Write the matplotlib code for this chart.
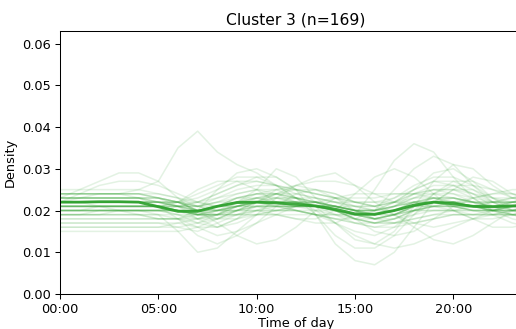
import numpy as np
import matplotlib
matplotlib.use("Agg")
import matplotlib.pyplot as plt

hours = np.arange(0, 25)

# density profiles (values in units of 1e-3)
profiles = [
    [22,22,22,22,22,21,20,19,20,22,23,23,22,22,21,20,19,19,20,21,22,22,21,21,21],
    [24,24,24,24,24,23,22,20,21,23,24,24,23,22,21,20,19,20,22,23,23,22,22,22,23],
    [19,19,19,19,19,19,18,17,18,20,21,21,21,21,20,19,18,19,21,22,22,21,20,20,20],
    [21,21,21,21,21,21,21,22,24,26,27,26,24,23,22,20,18,18,19,20,20,19,19,20,21],
    [23,23,23,23,23,22,21,18,16,18,20,22,23,23,22,21,20,22,25,27,26,24,22,22,22],
    [17,17,17,17,17,17,16,15,17,19,21,22,22,21,20,19,19,21,24,26,26,24,21,19,18],
    [25,25,25,25,25,24,23,21,20,21,22,22,21,20,19,18,17,17,18,19,20,21,22,23,24],
    [20,20,20,20,20,20,19,17,16,18,22,25,26,25,23,20,18,17,17,18,19,19,20,20,20],
    [22,22,22,22,22,22,22,22,23,24,25,24,22,21,20,18,15,14,15,18,21,23,24,24,23],
    [18,18,18,18,18,18,18,16,14,15,17,19,21,22,22,22,22,23,25,27,27,25,22,20,19],
    [23,23,24,24,23,21,18,14,12,14,17,21,24,25,24,22,21,22,24,25,25,24,23,23,23],
    [21,21,21,21,21,21,21,21,22,23,23,22,22,22,21,20,20,22,25,29,30,27,23,21,21],
    [16,16,16,16,16,16,16,17,19,22,24,25,25,24,23,21,20,20,21,22,22,21,20,19,18],
    [24,24,24,24,24,24,23,22,21,21,21,21,21,21,21,20,19,19,20,21,21,21,22,23,24],
    [20,20,21,21,21,21,22,24,26,28,28,26,23,21,19,17,16,16,17,18,19,19,19,19,20],
    [22,23,23,23,23,22,21,20,21,22,22,21,20,19,17,15,14,16,20,24,27,27,25,23,22],
    [19,19,20,20,20,20,21,21,22,22,22,22,22,22,21,20,20,21,22,22,21,20,19,19,19],
    [23,23,23,23,23,23,22,20,18,18,19,20,21,22,23,23,23,24,24,23,21,20,20,21,22],
    [24,24,24,24,25,27,35,39,34,31,29,26,23,20,17,14,12,11,12,14,16,18,20,22,23],
    [23,25,27,29,29,27,23,19,18,19,20,21,21,21,20,19,18,19,20,20,20,20,20,21,22],
    [22,24,26,27,27,26,24,22,21,21,21,20,20,19,19,19,19,20,21,21,21,20,20,21,21],
    [19,19,19,19,19,19,19,19,19,19,19,19,18,17,17,19,25,32,36,34,28,23,20,19,19],
    [20,20,20,20,20,20,20,19,19,20,21,21,20,19,18,18,20,25,30,33,31,26,22,20,20],
    [21,21,21,21,21,21,21,22,24,26,28,28,25,19,12,8,7,10,16,22,25,25,23,22,21],
    [20,20,20,20,20,19,15,10,11,15,19,23,26,27,27,26,24,22,21,21,21,21,21,21,21],
    [20,20,20,20,20,20,20,20,21,22,25,30,28,23,20,18,17,18,20,21,21,21,20,20,20],
    [19,19,19,19,19,18,18,20,25,29,30,28,25,22,20,18,17,17,18,19,19,19,19,19,19],
    [21,21,21,21,21,21,20,19,19,20,22,24,26,28,29,26,22,19,17,16,17,18,19,20,21],
    [16,16,16,16,16,16,17,18,20,21,22,22,22,22,21,20,20,21,23,25,25,23,20,18,17],
    [15,15,15,15,15,15,15,16,18,20,22,24,25,25,24,22,21,22,24,25,24,22,19,17,16],
    [22,22,22,22,22,22,22,21,21,22,23,24,23,21,17,13,12,15,21,27,31,30,26,23,22],
    [21,21,21,21,21,21,21,21,23,25,26,26,25,24,23,22,22,22,22,21,20,18,16,16,17],
    [24,24,24,24,24,23,22,20,19,19,19,19,19,19,18,17,17,18,20,21,22,23,24,25,25],
    [22,22,22,22,22,22,22,23,25,27,27,26,25,24,23,22,21,19,16,13,12,14,17,20,22],
    [20,20,20,20,20,20,20,20,20,20,21,21,21,21,21,20,20,21,23,24,24,23,22,21,20],
    [23,23,23,23,23,23,22,21,20,20,20,20,20,20,20,19,18,19,21,22,22,21,21,22,23],
    [21,21,21,21,21,21,20,19,19,19,20,20,20,19,18,17,16,17,19,22,25,28,27,24,22],
    [22,22,22,22,22,22,22,20,17,14,12,13,16,20,23,24,24,24,24,24,23,22,22,22,22],
    [20,20,20,20,20,20,20,20,20,20,20,19,18,18,20,24,28,30,28,24,20,18,18,19,20],
    [18,18,18,18,18,18,18,18,19,21,23,24,24,23,22,21,21,22,23,23,22,21,20,19,18],
    [22,22,21,20,19,18,18,19,21,23,24,24,23,22,21,20,20,21,22,22,22,22,22,22,22],
    [23,23,23,23,23,23,22,21,22,24,25,25,23,19,14,11,11,14,19,24,26,26,25,24,23],
    [21,21,21,21,21,21,22,25,27,27,25,22,20,19,19,19,19,20,20,20,20,20,20,20,21],
    [22,22,22,22,22,22,21,20,20,21,22,23,23,22,21,19,18,19,21,23,23,22,21,21,22],
    [17,17,17,17,17,17,17,16,16,17,19,20,21,21,21,21,21,23,26,28,28,26,23,20,18],
    [21,21,21,21,21,21,20,19,20,21,22,22,22,21,20,19,19,20,21,22,22,21,21,21,21],
    [23,23,23,23,23,22,21,20,21,22,23,22,22,21,20,19,18,19,21,22,22,21,21,22,22],
    [20,20,20,20,20,20,19,18,19,21,22,22,22,21,21,20,19,20,21,22,22,21,20,20,20],
    [22,22,22,22,22,22,21,20,21,23,24,23,22,21,20,18,18,19,21,22,22,21,20,21,21],
    [24,24,24,24,24,23,21,19,19,21,22,22,21,21,20,19,19,20,22,23,22,21,21,22,23],
    [19,19,19,20,20,20,20,19,20,21,22,22,21,21,20,19,19,20,22,23,23,22,21,20,20],
    [22,22,22,22,22,21,20,20,21,22,22,21,21,21,21,20,20,21,22,22,21,20,20,21,22],
    [21,21,21,21,21,21,20,18,18,20,22,23,23,22,20,18,17,18,20,22,23,22,21,21,21],
]

# cluster mean profile (units of 1e-3)
mean_profile = [22.0,22.0,22.1,22.1,22.0,20.9,19.8,19.8,21.0,21.9,22.0,21.8,21.5,
                21.1,20.3,19.2,19.1,20.0,21.3,22.0,21.6,21.0,20.9,21.1,21.3]

tick_hours = [0, 5, 10, 15, 20]
tick_labels = ["00:00", "05:00", "10:00", "15:00", "20:00"]
title = "Cluster 3 (n=169)"

color = "#2ca02c"

fig = plt.figure(figsize=(516/93, 329/93), dpi=93)
ax = fig.add_axes([60/516, 1-294/329, 472/516, 263/329])

for p in profiles:
    ax.plot(hours, np.array(p)/1000, color=color, lw=1.2, alpha=0.13)
ax.plot(hours, np.array(mean_profile)/1000, color=color, lw=2.2, alpha=0.9)

ax.set_xlim(0, 24)
ax.set_ylim(0, 0.063)
ax.set_xticks(tick_hours)
ax.set_xticklabels(tick_labels)
ax.set_yticks([0, 0.01, 0.02, 0.03, 0.04, 0.05, 0.06])
ax.set_xlabel("Time of day", labelpad=1)
ax.set_ylabel("Density")
ax.set_title(title, pad=5)

fig.savefig("out.png", dpi=93)
